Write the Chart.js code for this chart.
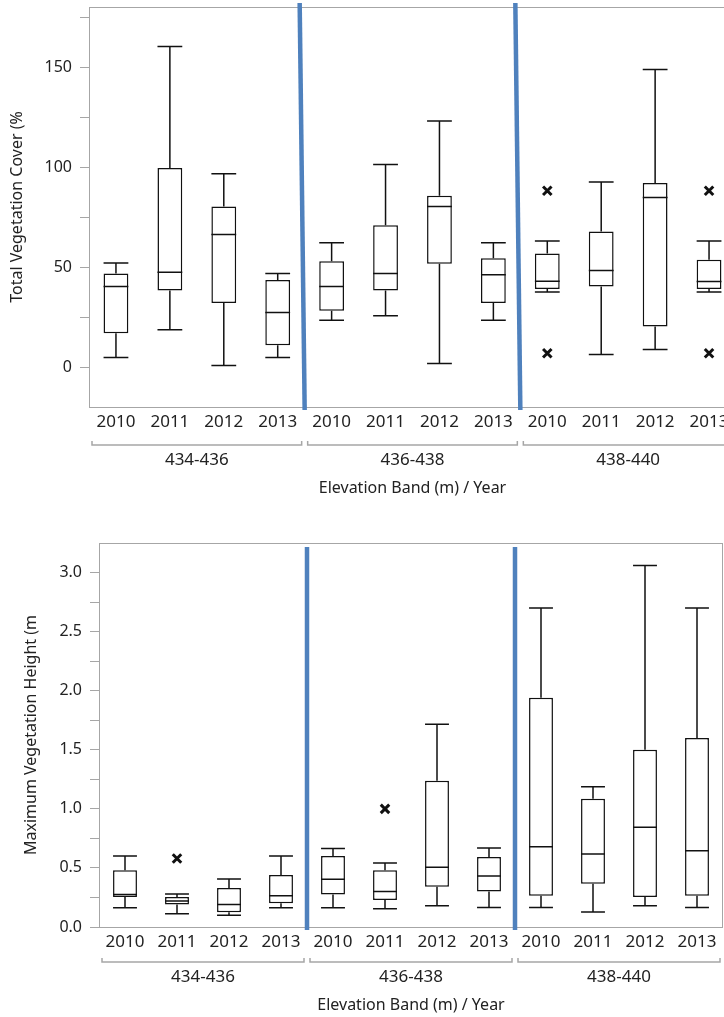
<!DOCTYPE html>
<html>
<head>
<meta charset="utf-8">
<script src="https://cdn.jsdelivr.net/npm/chart.js@4.4.0/dist/chart.umd.min.js"></script>
<style>
  html, body { margin: 0; padding: 0; background: #fff; overflow: hidden; width: 724px; height: 1017px; }
  #cover { position: absolute; left: 0; top: 0; }
  #height { position: absolute; left: 0; top: 520px; }
</style>
</head>
<body>
<canvas id="cover" width="750" height="500"></canvas>
<canvas id="height" width="724" height="497"></canvas>
<script>
const years = ['2010', '2011', '2012', '2013', '2010', '2011', '2012', '2013', '2010', '2011', '2012', '2013'];
const bands = ['434-436', '436-438', '438-440'];

// Total vegetation cover (%)
const coverMin = [4.7, 18.6, 0.7, 4.7, 23.4, 25.6, 1.7, 23.4, 37.5, 6.2, 8.7, 37.5];
const coverQ1 = [16.9, 38.2, 32, 10.9, 28.1, 38.2, 51.6, 32, 39, 40.3, 20.3, 39];
const coverMed = [40.3, 47.4, 66.2, 27.3, 40.3, 46.7, 80.2, 46.1, 42.9, 48.2, 84.8, 42.7];
const coverQ3 = [46.7, 99.5, 80.2, 43.5, 52.9, 70.9, 85.6, 54.4, 56.8, 67.7, 92, 53.6];
const coverMax = [52, 160.3, 96.6, 46.7, 62.1, 101.2, 123, 62.1, 63, 92.5, 148.7, 63];
const coverOutHigh = [null, null, null, null, null, null, null, null, 88.1, null, null, 88.1];
const coverOutLow = [null, null, null, null, null, null, null, null, 6.9, null, null, 6.9];
const coverTicks = [0, 25, 50, 75, 100, 125, 150, 175];

// Maximum vegetation height (m)
const heightMin = [0.163, 0.112, 0.099, 0.163, 0.163, 0.155, 0.18, 0.166, 0.166, 0.127, 0.18, 0.166];
const heightQ1 = [0.254, 0.19, 0.124, 0.2, 0.276, 0.228, 0.341, 0.3, 0.265, 0.366, 0.254, 0.265];
const heightMed = [0.276, 0.22, 0.19, 0.265, 0.405, 0.3, 0.505, 0.431, 0.68, 0.617, 0.845, 0.645];
const heightQ3 = [0.48, 0.254, 0.33, 0.44, 0.6, 0.48, 1.237, 0.592, 1.94, 1.085, 1.5, 1.6];
const heightMax = [0.6, 0.279, 0.406, 0.6, 0.665, 0.541, 1.716, 0.668, 2.7, 1.186, 3.06, 2.7];
const heightOut = [null, 0.58, null, null, null, 1.0, null, null, null, null, null, null];
const heightTicks = [0, 0.25, 0.5, 0.75, 1, 1.25, 1.5, 1.75, 2, 2.25, 2.5, 2.75, 3];

const FONT = 'Noto Sans';
const TEXT = '#222';
const AXIS = '#a6a6a6';
const SEP = '#4f81bd';

const boxPlot = {
  id: 'boxplot',
  beforeDatasetsDraw(chart) {
    const { ctx, chartArea: a } = chart;
    ctx.save();
    ctx.strokeStyle = AXIS;
    ctx.lineWidth = 1;
    ctx.strokeRect(a.left + 0.5, a.top + 0.5, a.right - a.left - 1, a.bottom - a.top);
    ctx.restore();
  },
  afterDatasetsDraw(chart, args, o) {
    const { ctx, chartArea: a, scales: { x, y } } = chart;
    const bars = chart.getDatasetMeta(0).data;
    const data = chart.data.datasets[0].data;
    ctx.save();
    ctx.strokeStyle = '#111';
    ctx.lineWidth = 1.5;
    bars.forEach((bar, i) => {
      const cx = bar.x, hw = bar.width / 2;
      const yMin = y.getPixelForValue(o.min[i]);
      const yMax = y.getPixelForValue(o.max[i]);
      const yMed = y.getPixelForValue(o.med[i]);
      const yQ1 = y.getPixelForValue(data[i][0]);
      const yQ3 = y.getPixelForValue(data[i][1]);
      ctx.beginPath();
      ctx.moveTo(cx, yQ3); ctx.lineTo(cx, yMax);
      ctx.moveTo(cx - hw, yMax); ctx.lineTo(cx + hw, yMax);
      ctx.moveTo(cx, yQ1); ctx.lineTo(cx, yMin);
      ctx.moveTo(cx - hw, yMin); ctx.lineTo(cx + hw, yMin);
      ctx.moveTo(cx - hw, yMed); ctx.lineTo(cx + hw, yMed);
      ctx.stroke();
    });
    // blue separators between elevation bands
    ctx.strokeStyle = SEP;
    ctx.lineWidth = 4.5;
    for (let g = 1; g < o.bands.length; g++) {
      const sx = (x.getPixelForValue(4 * g - 1) + x.getPixelForValue(4 * g)) / 2;
      ctx.beginPath();
      ctx.moveTo(sx - o.slant, a.top + o.sepTop);
      ctx.lineTo(sx, a.bottom + 3);
      ctx.stroke();
    }
    ctx.restore();
  },
  afterDraw(chart, args, o) {
    const { ctx, chartArea: a, scales: { x } } = chart;
    const cw = x.getPixelForValue(1) - x.getPixelForValue(0);
    const by = a.bottom + o.bracket;
    ctx.save();
    ctx.strokeStyle = AXIS;
    ctx.lineWidth = 1.5;
    ctx.fillStyle = TEXT;
    ctx.font = '17px "' + FONT + '"';
    ctx.textAlign = 'center';
    ctx.textBaseline = 'middle';
    o.bands.forEach((b, g) => {
      const xl = x.getPixelForValue(4 * g) - cw / 2 + 3;
      const xr = x.getPixelForValue(4 * g + 3) + cw / 2 - 3;
      ctx.beginPath();
      ctx.moveTo(xl, by - 4); ctx.lineTo(xl, by); ctx.lineTo(xr, by); ctx.lineTo(xr, by - 4);
      ctx.stroke();
      ctx.fillText(b, (xl + xr) / 2, a.bottom + o.group);
    });
    ctx.restore();
  }
};

function makeChart(id, cfg) {
  return new Chart(document.getElementById(id), {
    type: 'bar',
    plugins: [boxPlot],
    data: {
      labels: years,
      datasets: [
        { data: cfg.q1.map((v, i) => [v, cfg.q3[i]]), backgroundColor: '#fff', borderColor: '#111', borderWidth: 1.5, borderSkipped: false, barPercentage: 0.46, categoryPercentage: 1 },
        ...cfg.outliers.map(d => ({ type: 'line', data: d, showLine: false, pointStyle: 'crossRot', pointRadius: 6, borderWidth: 3, borderColor: '#111' }))
      ]
    },
    options: {
      responsive: false, animation: false,
      layout: { padding: cfg.padding, autoPadding: false },
      plugins: {
        legend: { display: false }, tooltip: { enabled: false },
        boxplot: { min: cfg.min, med: cfg.med, max: cfg.max, bands, slant: cfg.slant, sepTop: cfg.sepTop, bracket: cfg.bracket, group: cfg.group }
      },
      scales: {
        x: {
          afterFit(s) { s.height = cfg.xHeight; s.paddingLeft = 0; s.paddingRight = 0; },
          grid: { display: false, drawTicks: false },
          border: { display: false },
          ticks: { color: TEXT, font: { family: FONT, size: 17 }, padding: 5, maxRotation: 0, autoSkip: false },
          title: { display: true, text: 'Elevation Band (m) / Year', color: TEXT, font: { family: FONT, size: 16 }, padding: { top: 0, bottom: 2 } }
        },
        y: {
          min: cfg.yMin, max: cfg.yMax,
          afterFit(s) { s.width = cfg.yWidth; s.paddingTop = 0; s.paddingBottom = 0; },
          afterBuildTicks(s) { s.ticks = cfg.ticks.map(v => ({ value: v })); },
          grid: { drawOnChartArea: false, tickLength: 9, color: AXIS },
          border: { display: false },
          ticks: { color: TEXT, font: { family: FONT, size: 16 }, padding: 8, callback: cfg.tickLabel },
          title: { display: true, text: cfg.yTitle, color: TEXT, font: { family: FONT, size: 16 }, padding: { top: cfg.titlePad, bottom: 0 } }
        }
      }
    }
  });
}

makeChart('cover', {
  q1: coverQ1, q3: coverQ3, min: coverMin, med: coverMed, max: coverMax,
  outliers: [coverOutHigh, coverOutLow],
  yMin: -20, yMax: 180, ticks: coverTicks,
  tickLabel: v => (v % 50 === 0 ? String(v) : ''),
  yTitle: 'Total Vegetation Cover (%',
  padding: { top: 7, right: 14, left: 0, bottom: 0 },
  xHeight: 93, yWidth: 89, titlePad: 8,
  slant: 5, sepTop: -4, bracket: 38, group: 53
});

makeChart('height', {
  q1: heightQ1, q3: heightQ3, min: heightMin, med: heightMed, max: heightMax,
  outliers: [heightOut],
  yMin: 0, yMax: 3.25, ticks: heightTicks,
  tickLabel: v => (Math.abs(v * 2 - Math.round(v * 2)) < 1e-6 ? v.toFixed(1) : ''),
  yTitle: 'Maximum Vegetation Height (m',
  padding: { top: 23, right: 1, left: 0, bottom: 0 },
  xHeight: 90, yWidth: 99, titlePad: 22,
  slant: 0, sepTop: 4, bracket: 35, group: 50
});
</script>
</body>
</html>
